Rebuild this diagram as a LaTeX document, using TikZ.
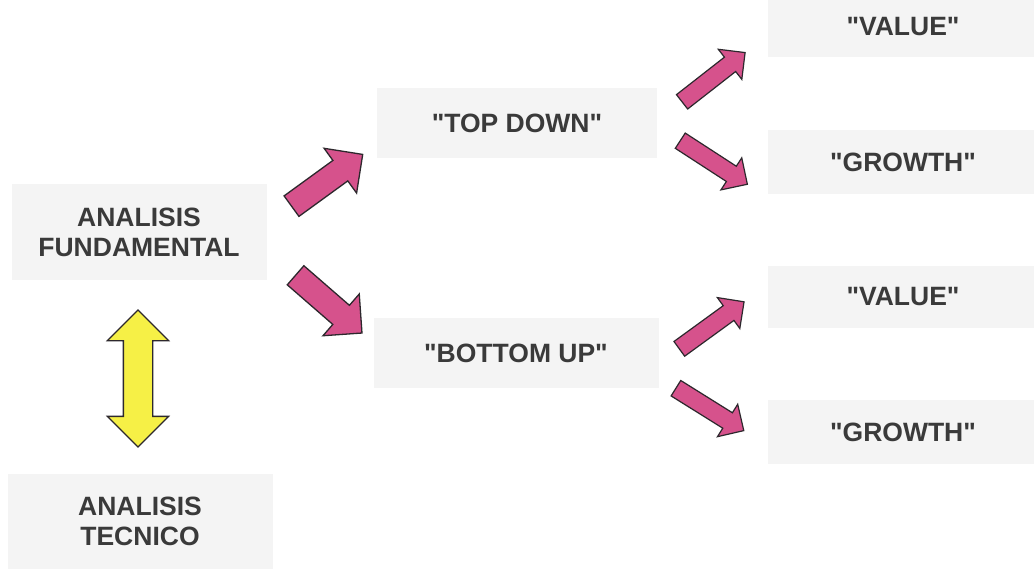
\documentclass[tikz,border=0pt]{standalone}
\usepackage{fontspec}
\newfontfamily\lbfont{Liberation Sans}
\usetikzlibrary{shapes.arrows}
\definecolor{pinkfill}{RGB}{214,82,140}
\definecolor{yellowfill}{RGB}{246,240,70}
\definecolor{txt}{RGB}{58,58,58}
\definecolor{outl}{RGB}{45,40,45}
\definecolor{boxfill}{RGB}{244,244,244}
\tikzset{
  lbl/.style={fill=boxfill, text=txt, font=\lbfont\fontsize{26.5}{30}\selectfont\bfseries, align=center, inner sep=0pt},
  bigpink/.style={single arrow, draw=outl, line width=1.3pt, fill=pinkfill, inner xsep=0pt, inner ysep=12pt,
     minimum height=88, single arrow head extend=15},
  smallpink/.style={single arrow, draw=outl, line width=1.2pt, fill=pinkfill, inner xsep=0pt, inner ysep=8.5pt,
     minimum height=80, single arrow head extend=10},
  yelarrow/.style={double arrow, draw=outl, line width=1.3pt, fill=yellowfill, inner xsep=0pt, inner ysep=14pt,
     minimum height=137, double arrow head extend=16}
}
\begin{document}
\begin{tikzpicture}[x=1pt,y=-1pt]
\useasboundingbox[fill=white] (0,0) rectangle (1034,575);
% nodes
\node[lbl, minimum width=255, minimum height=95] (fund) at (139,232) {ANALISIS\\FUNDAMENTAL};
\node[lbl, minimum width=265, minimum height=95] (tec) at (140,521) {ANALISIS\\TECNICO};
\node[lbl, minimum width=280, minimum height=70] (top) at (517,123) {"TOP DOWN"};
\node[lbl, minimum width=285, minimum height=70] (bot) at (516,353) {"BOTTOM UP"};
\node[lbl, minimum width=270, minimum height=60] (v1) at (903,27) {"VALUE"};
\node[lbl, minimum width=270, minimum height=64] (g1) at (903,162) {"GROWTH"};
\node[lbl, minimum width=270, minimum height=62] (v2) at (903,297) {"VALUE"};
\node[lbl, minimum width=270, minimum height=64] (g2) at (903,432) {"GROWTH"};
% block arrows
\node[yelarrow, rotate=90] (ya) at (138,378.5) {};
\node[bigpink, rotate=36] (pa1) at (322,184) {};
\node[bigpink, rotate=-41] (pa2) at (324,300) {};
\node[smallpink, rotate=38] (pa3) at (710,80) {};
\node[smallpink, rotate=-33] (pa4) at (710,160) {};
\node[smallpink, rotate=36] (pa5) at (708,328) {};
\node[smallpink, rotate=-32] (pa6) at (706,407) {};
\end{tikzpicture}
\end{document}
